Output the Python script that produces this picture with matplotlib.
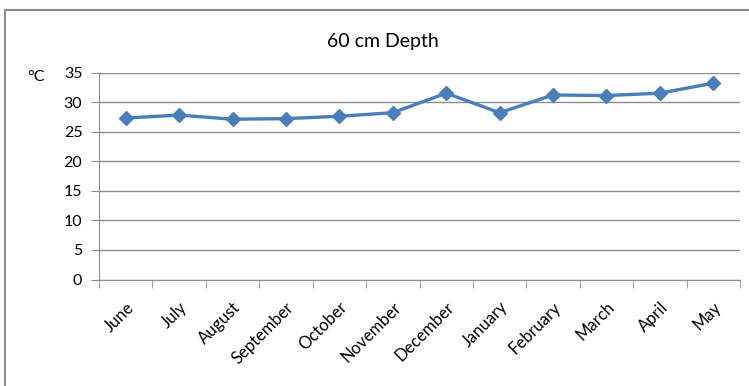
import matplotlib.pyplot as plt
from matplotlib.patches import Rectangle
import numpy as np

plt.rcParams['font.family'] = ['Lato', 'DejaVu Sans']

# Monthly temperature at 60 cm depth
months = ["June", "July", "August", "September", "October", "November",
          "December", "January", "February", "March", "April", "May"]
temps = [27.3, 27.8, 27.1, 27.2, 27.6, 28.2, 31.5, 28.2, 31.2, 31.1, 31.5, 33.2]

fig = plt.figure(figsize=(7.49, 3.86), dpi=100)

# outer chart frame (cropped on right and bottom)
fig.patches.append(Rectangle((5 / 749, -0.1), 1.2, 1 - 10 / 386 + 0.1,
                             transform=fig.transFigure, fill=False,
                             edgecolor="#8c8c8c", linewidth=1.5))

ax = fig.add_axes([99 / 749, 1 - 279.5 / 386, 641 / 749, 207 / 386])
x = np.arange(len(months))
ax.plot(x, temps, color="#4a7ebb", linewidth=2.4, marker="D", markersize=7)

ax.set_xlim(-0.5, len(months) - 0.5)
ax.set_ylim(0, 35)
ax.set_yticks(range(0, 36, 5))
ax.yaxis.grid(True, color="#8c8c8c", linewidth=1)
ax.set_axisbelow(True)

ax.set_xticks(x)
ax.set_xticklabels(months, rotation=45, ha="right", va="top", rotation_mode="anchor",
                   fontsize=12)
ax.set_xticks(np.arange(-0.5, len(months)), minor=True)
ax.tick_params(axis="x", which="major", length=0, pad=14)
ax.tick_params(axis="x", which="minor", length=6, color="#8c8c8c")
ax.tick_params(axis="y", length=6, color="#8c8c8c", pad=6, labelsize=11.5)

for s in ["top", "right"]:
    ax.spines[s].set_visible(False)
for s in ["left", "bottom"]:
    ax.spines[s].set_color("#8c8c8c")

fig.text(383 / 749, 1 - 42 / 386, "60 cm Depth", ha="center", va="center", fontsize=14)
fig.text(36 / 749, 1 - 77 / 386, "°C", ha="center", va="center", fontsize=11.5)

fig.savefig("out.png", dpi=100)
